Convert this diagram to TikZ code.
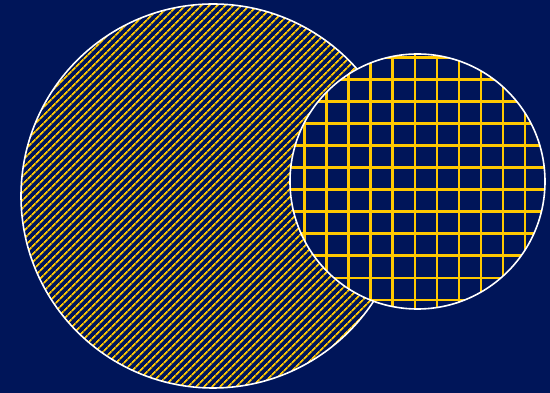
\documentclass[tikz,border=0pt]{standalone}
\usetikzlibrary{patterns.meta}
\definecolor{navy}{RGB}{0,21,89}
\definecolor{gold}{RGB}{255,200,0}
\tikzset{
  rim/.style={draw=white,line width=1.6pt},
  gridline/.style={draw=gold,line width=2.6pt}
}
\begin{document}
\begin{tikzpicture}[x=1pt,y=1pt]
\fill[navy] (0,0) rectangle (550,393);
\useasboundingbox (0,0) rectangle (550,393);
\coordinate (bigc) at (213,197);
\coordinate (smallc) at (417.5,211.5);
% big hatched circle
\fill[navy] (bigc) circle[radius=192];
\fill[pattern={Lines[angle=45,distance=5.4pt,line width=1.7pt]},pattern color=gold] (bigc) circle[radius=192];
\draw[rim] (bigc) circle[radius=192];
% small grid circle
\fill[navy] (smallc) circle[radius=127.5];
\begin{scope}
  \clip (smallc) circle[radius=127.5];
  \foreach \k in {-2,...,10} {
    \draw[gridline] ({326.7+22.03*\k},70) -- ({326.7+22.03*\k},350);
    \draw[gridline] (280,{313.7-22.06*\k}) -- (560,{313.7-22.06*\k});
  }
\end{scope}
\draw[rim] (smallc) circle[radius=127.5];
\end{tikzpicture}
\end{document}
